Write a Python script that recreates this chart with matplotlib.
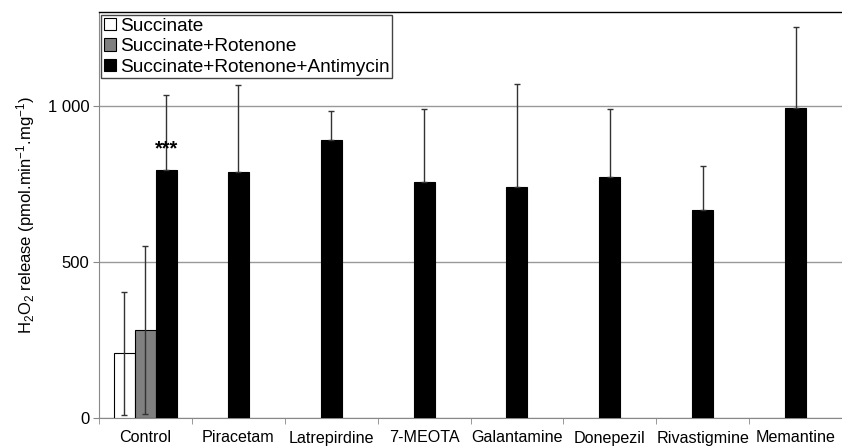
import numpy as np
import matplotlib.pyplot as plt
from matplotlib.patches import Patch

plt.rcParams['font.family'] = ['Liberation Sans', 'DejaVu Sans']
plt.rcParams['mathtext.fontset'] = 'custom'
plt.rcParams['mathtext.rm'] = 'Liberation Sans'
plt.rcParams['mathtext.default'] = 'regular'

drugs = ['Control', 'Piracetam', 'Latrepirdine', '7-MEOTA', 'Galantamine',
         'Donepezil', 'Rivastigmine', 'Memantine']
series = ['Succinate', 'Succinate+Rotenone', 'Succinate+Rotenone+Antimycin']

# control values (white, gray)
succ = 207
succ_err = 198
succ_rot = 282
succ_rot_err = 268
# antimycin (black) for every drug
anti = [795, 787, 889, 757, 739, 772, 667, 993]
anti_err = [238, 279, 93, 233, 330, 218, 141, 260]

yticks = [0, 500, 1000]
yticklabels = ['0', '500', '1 000']

fig = plt.figure(figsize=(8.42, 4.46), dpi=100)
ax = fig.add_axes([99/842, 1-418/446, (842-99)/842, (418-12)/446])

w = 0.226
x = np.arange(len(drugs))
ekw = dict(ecolor='#333333', elinewidth=1, capsize=2.5, capthick=1)

ax.bar(x[0] - w, succ, w, color='white', edgecolor='black', linewidth=0.8,
       yerr=succ_err, error_kw=ekw, zorder=3)
ax.bar(x[0], succ_rot, w, color='#808080', edgecolor='black', linewidth=0.8,
       yerr=succ_rot_err, error_kw=ekw, zorder=3)
xb = x.astype(float)
xb[0] = x[0] + w
ax.bar(xb, anti, w, color='black', edgecolor='black', linewidth=0.8,
       yerr=[np.zeros(len(anti)), anti_err], error_kw=ekw, zorder=3)

ax.text(xb[0], anti[0] + 35, '***', ha='center', va='bottom', fontsize=14.5,
        fontweight='bold', zorder=4)

ax.set_xlim(-0.5, len(drugs) - 0.5)
ax.set_ylim(0, 1300)
ax.set_yticks(yticks)
ax.set_yticklabels(yticklabels, fontsize=12)
ax.set_xticks(x)
ax.set_xticklabels(drugs, fontsize=11.6)
ax.set_xticks(np.arange(len(drugs) + 1) - 0.5, minor=True)
ax.tick_params(axis='x', which='major', length=0, pad=9)
ax.tick_params(axis='x', which='minor', length=4, color='#888888')
ax.tick_params(axis='y', length=4, color='#888888', pad=3)
ax.yaxis.grid(True, color='#999999', linewidth=1)
ax.set_axisbelow(True)
for s in ['left', 'bottom']:
    ax.spines[s].set_color('#888888')
ax.spines['right'].set_visible(False)
ax.spines['top'].set_color('black')
ax.spines['top'].set_linewidth(1)

ax.set_ylabel('H$_2$O$_2$ release (pmol.min$^{-1}$.mg$^{-1}$)', fontsize=12, labelpad=8)

handles = [Patch(facecolor=c, edgecolor='black', linewidth=0.8)
           for c in ['white', '#808080', 'black']]
leg = ax.legend(handles, series, loc='upper left', bbox_to_anchor=(0.003, 0.993),
                fontsize=13.7, handlelength=0.62, handleheight=0.62, handletextpad=0.2,
                labelspacing=0.18, borderpad=0.15, borderaxespad=0, fancybox=False,
                framealpha=1, edgecolor='#444444')
leg.get_frame().set_linewidth(1)

fig.savefig('out.png', dpi=100)
